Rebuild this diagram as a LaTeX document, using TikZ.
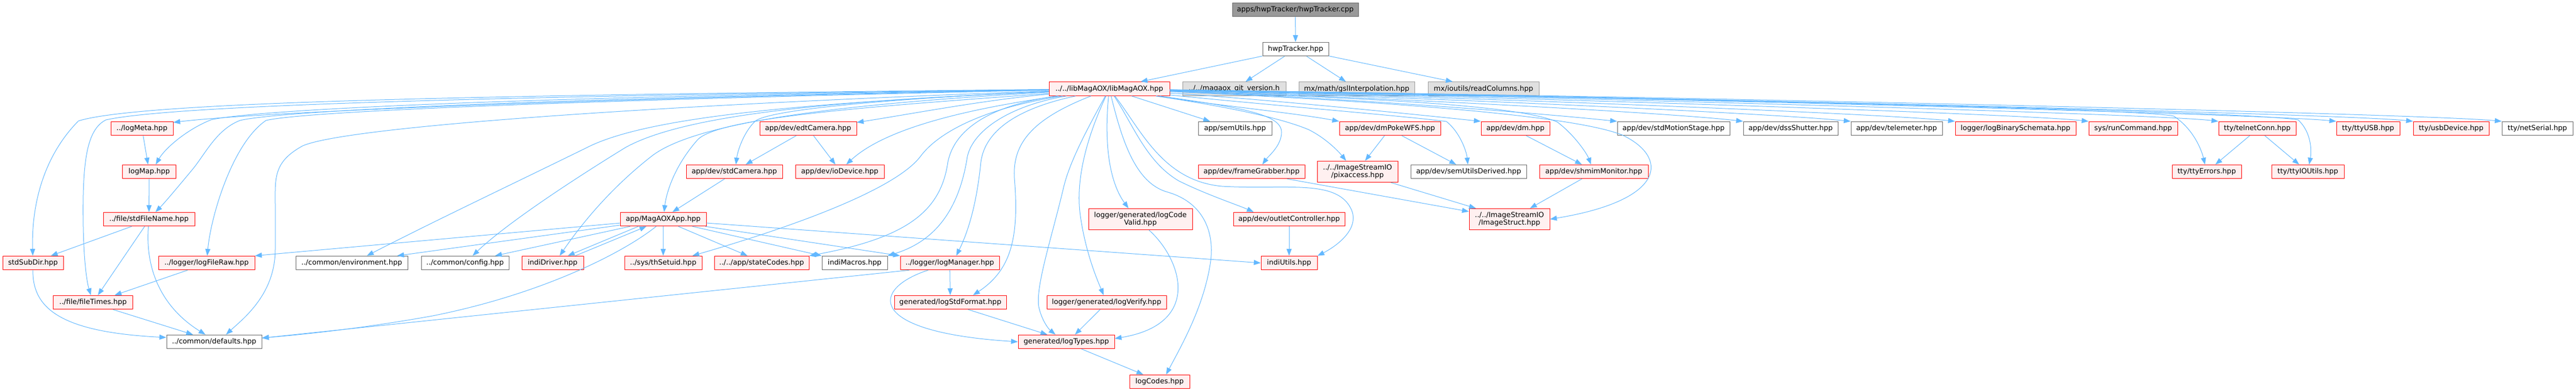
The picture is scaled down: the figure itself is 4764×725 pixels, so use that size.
\documentclass[tikz,border=0pt]{standalone}
\usepackage{fontspec}
\setmainfont{DejaVu Sans}
\usetikzlibrary{arrows.meta,calc}
\definecolor{edgeblue}{HTML}{63B8FF}
\definecolor{dxred}{HTML}{FF0000}
\definecolor{dxredfill}{HTML}{FFF0F0}
\definecolor{dxgray}{HTML}{666666}
\definecolor{dxlgray}{HTML}{999999}
\definecolor{dxlight}{HTML}{E0E0E0}
\definecolor{dxtop}{HTML}{999999}
\tikzset{
 nd/.style={draw, rectangle, inner sep=0pt, minimum height=19.2pt, line width=0.75pt, font=\fontsize{9.8}{10.8}\selectfont, text=black, align=center},
 rn/.style={nd, draw=dxred, fill=dxredfill},
 gn/.style={nd, draw=dxgray, fill=white},
 ln/.style={nd, draw=dxlgray, fill=dxlight},
 tn/.style={nd, draw=dxgray, fill=dxtop},
 bw/.style={minimum width=#1*0.75pt},
 two/.style={minimum height=29.6pt},
 e/.style={draw=edgeblue, line width=0.75pt, -{Triangle[length=9.5pt,width=7pt]}},
}
\begin{document}
\begin{tikzpicture}[x=0.75pt,y=-0.75pt]
\useasboundingbox (0,0) rectangle (4764,725);
% row 0-2
\node[tn,bw=233] (cpp) at (2395.5,18) {apps/hwpTracker/hwpTracker.cpp};
\node[gn,bw=122] (hpp) at (2396,91) {hwpTracker.hpp};
\node[rn,bw=223] (lib) at (2051.5,164.5) {../../libMagAOX/libMagAOX.hpp};
\node[ln,bw=191] (git) at (2282.5,164.5) {../../magaox\_git\_version.h};
\node[ln,bw=214] (gsl) at (2509,164.5) {mx/math/gslInterpolation.hpp};
\node[ln,bw=205] (rc) at (2743.5,164.5) {mx/ioutils/readColumns.hpp};
% row 3
\node[rn,bw=115] (logMeta) at (262.5,238) {../logMeta.hpp};
\node[rn,bw=179] (edtCamera) at (1494.5,238) {app/dev/edtCamera.hpp};
\node[gn,bw=136] (semUtils) at (2284,238) {app/semUtils.hpp};
\node[rn,bw=187] (dmPokeWFS) at (2570.5,238) {app/dev/dmPokeWFS.hpp};
\node[rn,bw=127] (dm) at (2802.5,238) {app/dev/dm.hpp};
\node[gn,bw=208] (stdMotionStage) at (3095,238) {app/dev/stdMotionStage.hpp};
\node[gn,bw=175] (dssShutter) at (3311.5,238) {app/dev/dssShutter.hpp};
\node[gn,bw=169] (telemeter) at (3507.5,238) {app/dev/telemeter.hpp};
\node[rn,bw=223] (logBinarySchemata) at (3727.5,238) {logger/logBinarySchemata.hpp};
\node[rn,bw=164] (runCommand) at (3945,238) {sys/runCommand.hpp};
\node[rn,bw=143] (telnetConn) at (4174.5,238) {tty/telnetConn.hpp};
\node[rn,bw=117] (ttyUSB) at (4379.5,238) {tty/ttyUSB.hpp};
\node[rn,bw=140] (usbDevice) at (4533,238) {tty/usbDevice.hpp};
\node[gn,bw=131] (netSerial) at (4692.5,238) {tty/netSerial.hpp};
% row 4
\node[rn,bw=98.5] (logMap) at (276,318) {logMap.hpp};
\node[rn,bw=178] (stdCamera) at (1358,318) {app/dev/stdCamera.hpp};
\node[rn,bw=164] (ioDevice) at (1553,318) {app/dev/ioDevice.hpp};
\node[rn,bw=197] (frameGrabber) at (2314.5,318) {app/dev/frameGrabber.hpp};
\node[rn,bw=149,two] (pixaccess) at (2510.5,318) {../../ImageStreamIO\\/pixaccess.hpp};
\node[gn,bw=214] (semUtilsDerived) at (2716,318) {app/dev/semUtilsDerived.hpp};
\node[rn,bw=201] (shmimMonitor) at (2947.5,318) {app/dev/shmimMonitor.hpp};
\node[rn,bw=128] (ttyErrors) at (4081,318) {tty/ttyErrors.hpp};
\node[rn,bw=134] (ttyIOUtils) at (4268,318) {tty/ttyIOUtils.hpp};
% row 5
\node[rn,bw=169] (stdFileName) at (275.5,406) {../file/stdFileName.hpp};
\node[rn,bw=159] (MagAOXApp) at (1226.5,406) {app/MagAOXApp.hpp};
\node[rn,bw=192,two] (logCodeValid) at (2109,406) {logger/generated/logCode\\Valid.hpp};
\node[rn,bw=206] (outletController) at (2384,406) {app/dev/outletController.hpp};
\node[rn,bw=149,two] (ImageStruct) at (2791.5,406) {../../ImageStreamIO\\/ImageStruct.hpp};
% row 6
\node[rn,bw=112] (stdSubDir) at (61,487) {stdSubDir.hpp};
\node[rn,bw=178] (logFileRaw) at (382,487) {../logger/logFileRaw.hpp};
\node[gn,bw=207] (environment) at (650.5,487) {../common/environment.hpp};
\node[gn,bw=162] (config) at (860,487) {../common/config.hpp};
\node[rn,bw=114] (indiDriver) at (1022,487) {indiDriver.hpp};
\node[rn,bw=143] (thSetuid) at (1226.5,487) {../sys/thSetuid.hpp};
\node[rn,bw=175] (stateCodes) at (1408.5,487) {../../app/stateCodes.hpp};
\node[gn,bw=121] (indiMacros) at (1580.5,487) {indiMacros.hpp};
\node[rn,bw=183] (logManager) at (1756.5,487) {../logger/logManager.hpp};
\node[rn,bw=104] (indiUtils) at (2384,487) {indiUtils.hpp};
% row 7-9
\node[rn,bw=147] (fileTimes) at (172,560) {../file/fileTimes.hpp};
\node[rn,bw=207] (logStdFormat) at (1757.5,560) {generated/logStdFormat.hpp};
\node[rn,bw=221] (logVerify) at (2046.5,560) {logger/generated/logVerify.hpp};
\node[gn,bw=176] (defaults) at (396,633) {../common/defaults.hpp};
\node[rn,bw=178] (logTypes) at (1972,633) {generated/logTypes.hpp};
\node[rn,bw=111] (logCodes) at (2144.5,707) {logCodes.hpp};

% top edges
\draw[e] (cpp) -- (hpp);
\draw[e] (hpp) -- ($(lib.north)+(58,0)$);
\draw[e] (hpp) -- ($(git.north)+(21,0)$);
\draw[e] (hpp) -- ($(gsl.north)+(-20,0)$);
\draw[e] (hpp) -- ($(rc.north)+(-57,0)$);

% lib, leftwards
\draw[e] (lib) .. controls (900,176) and (260,188) .. (145,224) .. controls (80,290) and (58,380) .. (stdSubDir);
\draw[e] (lib) .. controls (900,178) and (320,195) .. (196,222) .. controls (160,240) and (152,300) .. (154,420) .. controls (155,480) and (160,520) .. (fileTimes);
\draw[e] (lib) .. controls (1200,180) and (500,205) .. ($(logMeta.north east)+(0,2)$);
\draw[e] (lib) .. controls (900,180) and (460,205) .. (390,222) .. controls (345,240) and (305,275) .. ($(logMap.north)+(12,0)$);
\draw[e] (lib) .. controls (1000,182) and (520,205) .. (444,223) .. controls (400,240) and (380,285) .. (355,315) .. controls (330,345) and (305,375) .. ($(stdFileName.north)+(12,0)$);
\draw[e] (lib) .. controls (1100,185) and (570,205) .. (492,223) .. controls (430,265) and (390,400) .. (logFileRaw);
\draw[e] (lib) .. controls (1200,195) and (640,235) .. (560,270) .. controls (505,300) and (509,330) .. (509,380) -- (509,462) .. controls (509,545) and (450,590) .. ($(defaults.north)+(22,0)$);
\draw[e] (lib) .. controls (1500,190) and (1200,215) .. (1086,273) .. controls (960,335) and (800,411) .. ($(environment.north)+(28,0)$);
\draw[e] (lib) .. controls (1600,185) and (1280,205) .. (1157,273) .. controls (1040,345) and (930,420) .. ($(config.north)+(14,0)$);
\draw[e] (lib) .. controls (1600,190) and (1300,220) .. (1208,287) .. controls (1120,355) and (1065,430) .. ($(indiDriver.north)+(13,0)$);
\draw[e] (lib) .. controls (1650,195) and (1330,215) .. (1290,259) .. controls (1245,310) and (1232,360) .. (MagAOXApp);
\draw[e] (lib) .. controls (1700,180) and (1430,200) .. (1397,224) .. controls (1375,245) and (1364,280) .. ($(stdCamera.north)+(3,0)$);
\draw[e] (lib) .. controls (1820,185) and (1680,212) .. ($(edtCamera.north east)+(0,2)$);
\draw[e] (lib) .. controls (1800,200) and (1640,235) .. ($(ioDevice.north)+(12,0)$);
\draw[e] (lib) .. controls (1820,200) and (1735,245) .. (1702,290) .. controls (1660,345) and (1500,410) .. ($(thSetuid.north)+(54,0)$);
\draw[e] (lib) .. controls (1830,195) and (1765,240) .. (1753,300) .. controls (1740,390) and (1680,440) .. (stateCodes.north east);
\draw[e] (lib) .. controls (1870,195) and (1800,240) .. (1789,290) .. controls (1772,400) and (1720,450) .. (indiMacros.north east);
\draw[e] (lib) .. controls (1885,200) and (1822,240) .. (1814,300) .. controls (1806,380) and (1790,430) .. ($(logManager.north)+(12,0)$);
\draw[e] (lib) .. controls (1910,220) and (1872,265) .. (1876,330) .. controls (1885,440) and (1870,500) .. ($(logStdFormat.north)+(42,0)$);
\draw[e] (lib) .. controls (2010,240) and (1978,300) .. (1967,347) .. controls (1945,440) and (1915,530) .. (1921,568) .. controls (1927,595) and (1940,610) .. ($(logTypes.north)+(-20,0)$);
\draw[e] (lib) .. controls (2012,250) and (1988,330) .. (1998,400) .. controls (2008,470) and (2030,520) .. (logVerify);
\draw[e] (lib) .. controls (2042,260) and (2050,335) .. ($(logCodeValid.north)+(-22,0)$);
\draw[e] (lib) .. controls (2075,260) and (2100,340) .. (2160,356) .. controls (2225,375) and (2248,430) .. (2238,490) .. controls (2225,570) and (2185,640) .. ($(logCodes.north)+(12,0)$);
\draw[e] (lib) .. controls (2095,230) and (2120,300) .. (2180,335) .. controls (2230,360) and (2290,380) .. ($(outletController.north west)+(38,0)$);
\draw[e] (lib) .. controls (2110,240) and (2150,335) .. (2260,345) .. controls (2380,352) and (2475,330) .. (2500,390) .. controls (2515,430) and (2460,462) .. (indiUtils.north east);
\draw[e] (lib) -- ($(semUtils.north)+(-46,0)$);
\draw[e] (lib) .. controls (2300,200) and (2370,212) .. (2370,245) .. controls (2370,270) and (2345,290) .. ($(frameGrabber.north)+(20,0)$);
% lib, rightwards
\draw[e] (lib) .. controls (2250,195) and (2400,210) .. (dmPokeWFS.north west);
\draw[e] (lib) .. controls (2250,195) and (2360,215) .. (2420,240) .. controls (2452,256) and (2475,280) .. ($(pixaccess.north)+(-21,0)$);
\draw[e] (lib) .. controls (2350,195) and (2600,215) .. (2675,225) .. controls (2700,245) and (2712,280) .. (semUtilsDerived);
\draw[e] (lib) .. controls (2350,185) and (2600,210) .. (dm.north west);
\draw[e] (lib) .. controls (2450,180) and (2800,190) .. (2880,226) .. controls (2912,250) and (2935,285) .. (shmimMonitor);
\draw[e] (lib) .. controls (2450,180) and (2800,205) .. (stdMotionStage.north west);
\draw[e] (lib) .. controls (2500,185) and (2900,210) .. (3000,250) .. controls (3085,290) and (3085,370) .. (ImageStruct.east);
\draw[e] (lib) .. controls (2600,182) and (3100,210) .. (dssShutter.north west);
\draw[e] (lib) .. controls (2700,182) and (3300,212) .. (telemeter.north west);
\draw[e] (lib) .. controls (2800,182) and (3500,212) .. (logBinarySchemata.north west);
\draw[e] (lib) .. controls (2900,182) and (3750,212) .. (runCommand.north west);
\draw[e] (lib) .. controls (3000,182) and (3950,200) .. (4020,215) .. controls (4058,240) and (4072,280) .. (ttyErrors);
\draw[e] (lib) .. controls (3000,182) and (4000,212) .. (telnetConn.north west);
\draw[e] (lib) .. controls (3100,182) and (4150,205) .. (4250,222) .. controls (4275,245) and (4275,280) .. (ttyIOUtils);
\draw[e] (lib) .. controls (3100,182) and (4200,212) .. (ttyUSB.north west);
\draw[e] (lib) .. controls (3200,182) and (4350,212) .. (usbDevice.north west);
\draw[e] (lib) .. controls (3300,182) and (4500,212) .. (netSerial.north west);

% left cluster
\draw[e] (logMeta) -- (logMap);
\draw[e] (logMap) -- (stdFileName);
\draw[e] ($(stdFileName.south)+(-32,0)$) -- ($(stdSubDir.north)+(33,0)$);
\draw[e] ($(stdFileName.south)+(-8,0)$) -- ($(fileTimes.north)+(9,0)$);
\draw[e] ($(stdFileName.south)+(-1,0)$) .. controls (268,500) and (300,570) .. ($(defaults.north)+(-16,0)$);
\draw[e] ($(logFileRaw.south)+(-35,0)$) -- ($(fileTimes.north)+(40,0)$);
\draw[e] ($(fileTimes.south)+(37,0)$) -- ($(defaults.north)+(-39,0)$);
\draw[e] (stdSubDir) .. controls (60,570) and (110,615) .. ($(defaults.west)+(0,-8)$);

% cameras and app
\draw[e] ($(edtCamera.south)+(-22,0)$) -- ($(stdCamera.north)+(21,0)$);
\draw[e] ($(edtCamera.south)+(10,0)$) -- ($(ioDevice.north)+(-8,0)$);
\draw[e] ($(stdCamera.south)+(-18,0)$) -- ($(MagAOXApp.north)+(17,0)$);
\draw[e] (MagAOXApp) -- (logFileRaw.north east);
\draw[e] (MagAOXApp) -- ($(environment.north east)+(-20,0)$);
\draw[e] (MagAOXApp) -- ($(config.north east)+(-26,0)$);
\draw[e] ($(MagAOXApp.south)+(-46,0)$) -- ($(indiDriver.north)+(28,0)$);
\draw[e] ($(indiDriver.north)+(42,0)$) -- ($(MagAOXApp.south)+(-31,0)$);
\draw[e] ($(MagAOXApp.south)+(-13,0)$) .. controls (1150,470) and (1000,545) .. (800,585) .. controls (650,612) and (530,622) .. ($(defaults.east)+(0,-7)$);
\draw[e] (MagAOXApp) -- (thSetuid);
\draw[e] ($(MagAOXApp.south)+(28,0)$) -- ($(stateCodes.north)+(-26,0)$);
\draw[e] ($(MagAOXApp.south)+(54,0)$) -- (indiMacros.north west);
\draw[e] ($(MagAOXApp.south east)+(-2,0)$) -- (logManager.north west);
\draw[e] ($(MagAOXApp.east)+(0,7)$) -- (indiUtils.west);

% logger cluster
\draw[e] (logManager) -- (logStdFormat);
\draw[e] ($(logManager.south)+(-40,0)$) .. controls (1610,535) and (1600,615) .. (logTypes.west);
\draw[e] ($(logManager.south west)+(17,0)$) -- ($(defaults.east)+(0,-7)$);
\draw[e] ($(logStdFormat.south)+(33,0)$) -- ($(logTypes.north)+(-35,0)$);
\draw[e] ($(logVerify.south)+(-12,0)$) -- ($(logTypes.north)+(16,0)$);
\draw[e] ($(logCodeValid.south)+(16,0)$) .. controls (2185,480) and (2225,600) .. ($(logTypes.east)+(0,-6)$);
\draw[e] ($(logTypes.south)+(28,0)$) -- ($(logCodes.north)+(-30,0)$);
\draw[e] (outletController) -- (indiUtils);

% image stream cluster
\draw[e] ($(frameGrabber.south)+(66,0)$) -- ($(ImageStruct.north west)+(0,6)$);
\draw[e] ($(dmPokeWFS.south)+(-10,0)$) -- ($(pixaccess.north)+(14,0)$);
\draw[e] ($(dmPokeWFS.south)+(22,0)$) -- ($(semUtilsDerived.north)+(-23,0)$);
\draw[e] ($(dm.south)+(20,0)$) -- ($(shmimMonitor.north)+(-22,0)$);
\draw[e] ($(pixaccess.south)+(62,0)$) -- ($(ImageStruct.north)+(-62,0)$);
\draw[e] ($(shmimMonitor.south)+(-22,0)$) -- ($(ImageStruct.north)+(38,0)$);

% tty cluster
\draw[e] ($(telnetConn.south)+(-14,0)$) -- ($(ttyErrors.north)+(16,0)$);
\draw[e] ($(telnetConn.south)+(14,0)$) -- ($(ttyIOUtils.north)+(-16,0)$);
\end{tikzpicture}
\end{document}
